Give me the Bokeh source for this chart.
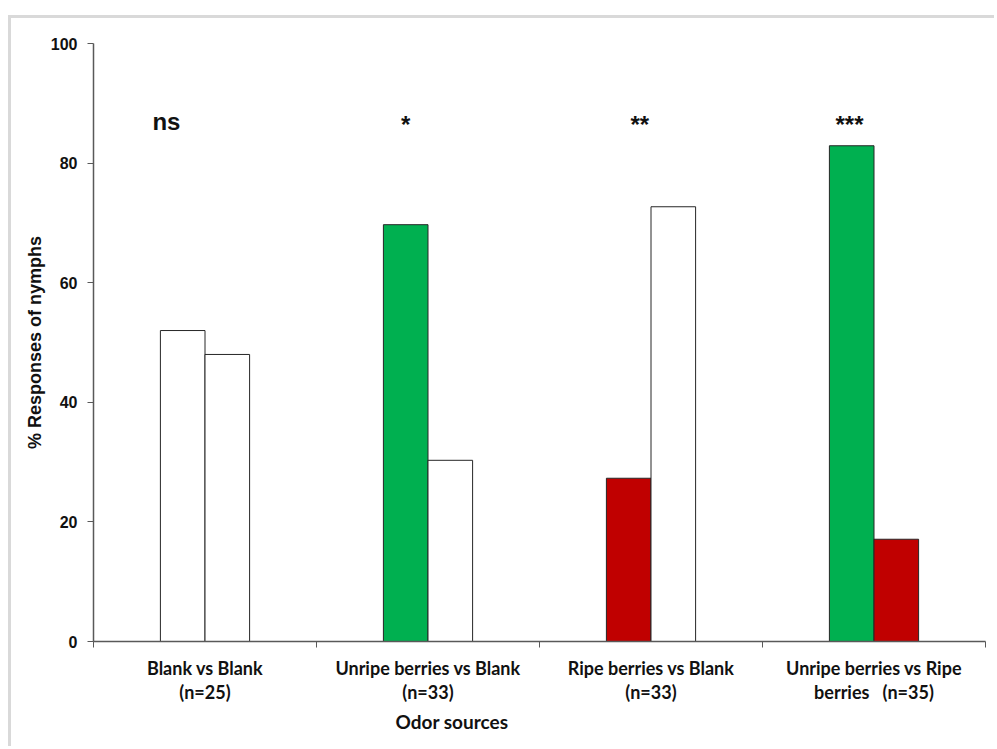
from bokeh.plotting import figure
from bokeh.models import FixedTicker, Range1d, ColumnDataSource, Title
from bokeh.core.properties import value
from bokeh.embed import file_html
from bokeh.resources import INLINE

# Two-choice olfactometer results, % of nymphs choosing each arm
comparisons = [
    "Blank vs Blank\n(n=25)",
    "Unripe berries vs Blank\n(n=33)",
    "Ripe berries vs Blank\n(n=33)",
    "Unripe berries vs Ripe\nberries \u00a0 (n=35)",
]
first_pct = [52.0, 69.7, 27.3, 82.9]
second_pct = [48.0, 30.3, 72.7, 17.1]
first_colors = ["#FFFFFF", "#00B050", "#C00000", "#00B050"]
second_colors = ["#FFFFFF", "#FFFFFF", "#FFFFFF", "#C00000"]
significance = ["ns", "*", "**", "***"]
y_ticks = [0, 20, 40, 60, 80, 100]

BAR_W = 0.2
group_idx = list(range(len(comparisons)))
centers = [i + 0.5 for i in group_idx]

# the figure sits inside a light frame open to the right and bottom
FRAME_X, FRAME_Y, FRAME_W = 8, 15, 3
off_x = FRAME_X + FRAME_W
off_y = FRAME_Y + FRAME_W

p = figure(
    width=997 - off_x, height=749 - off_y,
    x_range=Range1d(0, 4), y_range=Range1d(0, 100),
    output_backend="svg", toolbar_location=None,
    min_border_left=93 - off_x, min_border_right=12,
    min_border_top=43 - off_y, min_border_bottom=108,
)
p.styles = {
    "margin-left": f"{FRAME_X}px",
    "margin-top": f"{FRAME_Y}px",
    "border-left": f"{FRAME_W}px solid #d9d9d9",
    "border-top": f"{FRAME_W}px solid #d9d9d9",
}
p.outline_line_color = None
p.xgrid.visible = False
p.ygrid.visible = False
p.background_fill_color = "white"
p.border_fill_color = "white"

left_src = ColumnDataSource(dict(
    left=[c - BAR_W for c in centers], right=centers,
    top=first_pct, color=first_colors))
right_src = ColumnDataSource(dict(
    left=centers, right=[c + BAR_W for c in centers],
    top=second_pct, color=second_colors))

for src in (left_src, right_src):
    p.quad(left="left", right="right", bottom=0, top="top", source=src,
           fill_color="color", line_color="#262626", line_width=1)

# significance marks above each comparison
sig_offsets = [0.327, 0.40, 0.45, 0.39]
sig_src = ColumnDataSource(dict(
    x=[i + o for i, o in zip(group_idx, sig_offsets)],
    y=[87.0, 86.4, 86.4, 86.4],
    text=significance,
    size=["24px", "24px", "24px", "24px"],
))
p.text(x="x", y="y", text="text", source=sig_src,
       text_font=value("Liberation Sans"), text_font_style="bold",
       text_font_size="size", text_align="center", text_baseline="middle",
       text_color="#111111")

# x axis: labels centred under groups, ticks at group boundaries
xax = p.xaxis[0]
xax.ticker = FixedTicker(ticks=centers, minor_ticks=[0, 1, 2, 3, 4])
xax.major_label_overrides = {c: lab for c, lab in zip(centers, comparisons)}
xax.major_tick_out = 0
xax.major_tick_in = 0
xax.minor_tick_out = 6
xax.minor_tick_in = 0
xax.minor_tick_line_color = "#595959"
xax.axis_line_color = "#595959"
xax.axis_line_width = 1.5
xax.major_label_text_font = "Lato"
xax.major_label_text_font_style = "bold"
xax.major_label_text_font_size = "18px"
xax.major_label_text_line_height = 1.1
xax.major_label_text_color = "#111111"
xax.major_label_standoff = 9

# x axis title, set left of centre below the category labels
p.add_layout(Title(
    text="Odor sources", align="left", offset=302, standoff=4,
    text_font="Lato", text_font_style="bold", text_font_size="19px",
    text_color="#111111",
), "below")

yax = p.yaxis[0]
yax.ticker = FixedTicker(ticks=y_ticks, minor_ticks=[])
yax.major_tick_out = 6
yax.major_tick_in = 0
yax.major_tick_line_color = "#595959"
yax.axis_line_color = "#595959"
yax.axis_line_width = 1.5
yax.major_label_text_font = "Liberation Sans"
yax.major_label_text_font_style = "bold"
yax.major_label_text_font_size = "16px"
yax.major_label_text_color = "#111111"
yax.major_label_standoff = 10
yax.axis_label = "% Responses of nymphs"
yax.axis_label_text_font = "Liberation Sans"
yax.axis_label_text_font_style = "bold"
yax.axis_label_text_font_size = "18px"
yax.axis_label_text_color = "#111111"
yax.axis_label_standoff = 3

open("out.html", "w").write(file_html(p, INLINE))
